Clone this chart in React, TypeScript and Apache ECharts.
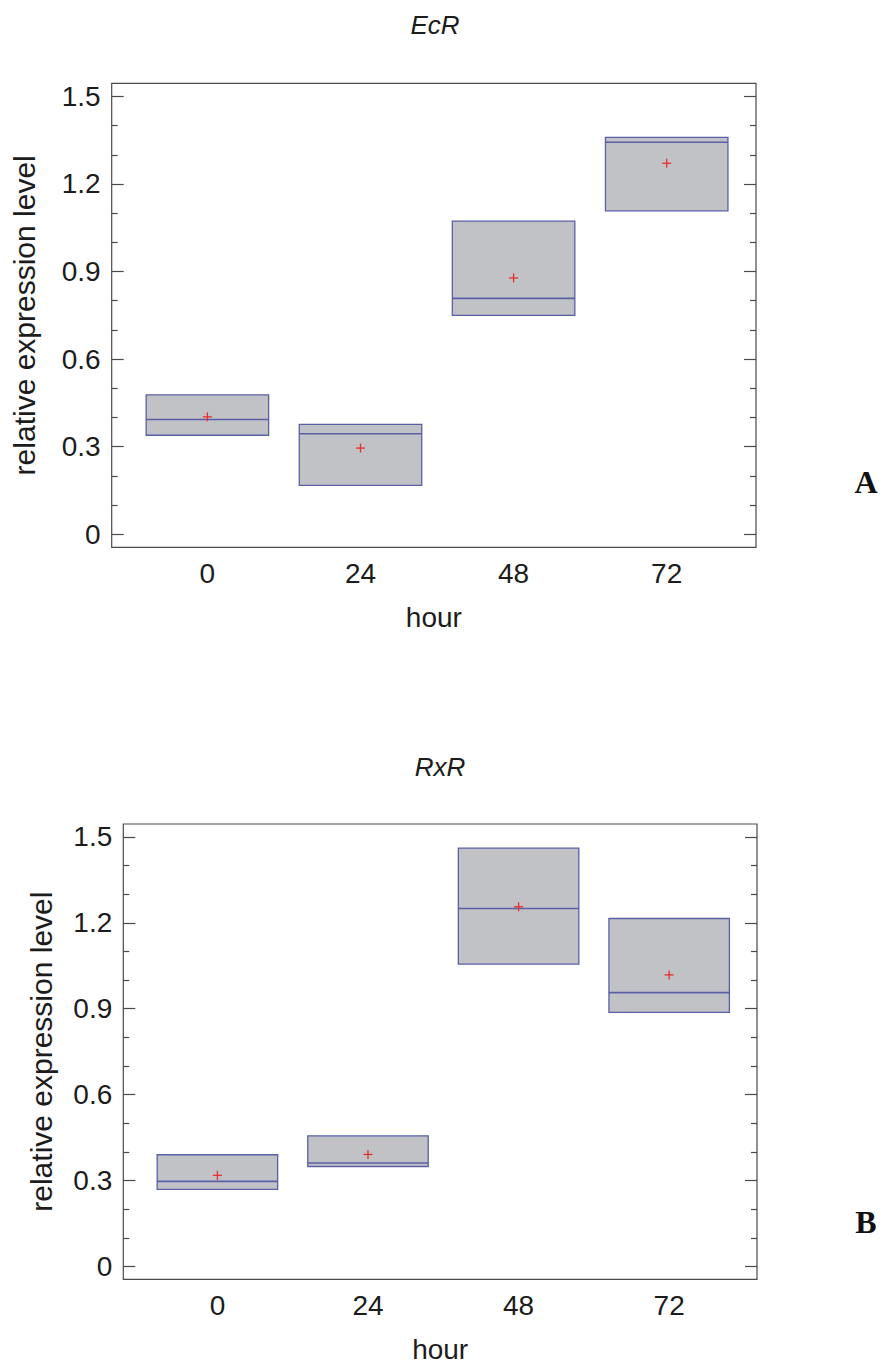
import React, { useEffect, useRef } from "react";
import * as echarts from "echarts";

// ---- data ----
const hours = [0, 24, 48, 72];
const xTickLabels = [0, 24, 48, 72];
const yMajorTicks = [0, 0.3, 0.6, 0.9, 1.2, 1.5];
const yMinorTicks = [0.1, 0.2, 0.4, 0.5, 0.7, 0.8, 1.0, 1.1, 1.3, 1.4];

// EcR (panel A)
const ecrQ1 = [0.339, 0.167, 0.750, 1.108];
const ecrMedian = [0.393, 0.344, 0.808, 1.343];
const ecrQ3 = [0.477, 0.376, 1.073, 1.360];
const ecrMean = [0.402, 0.295, 0.878, 1.271];

// RxR (panel B)
const rxrQ1 = [0.269, 0.349, 1.056, 0.887];
const rxrMedian = [0.297, 0.361, 1.250, 0.956];
const rxrQ3 = [0.390, 0.456, 1.461, 1.215];
const rxrMean = [0.318, 0.391, 1.256, 1.018];

const X_MIN = -15;
const X_MAX = 86;
const Y_MIN = -0.045;
const Y_MAX = 1.545;
const HALF = 9.6;

const FONT = "'Liberation Sans', Arial, sans-serif";
const FRAME = "#4a4a4a";
const TEXT = "#1c1c1c";
const BOX_FILL = "#c0c2c6";
const BOX_EDGE = "#5a5fa6";
const MEAN = "#e6302c";

function build(q1: number[], med: number[], q3: number[], mean: number[]) {
  return hours.map((h, i) => [h, q1[i], med[i], q3[i], mean[i]]);
}

const renderBox = (params: any, api: any) => {
  const x = api.value(0);
  const q1 = api.value(1);
  const med = api.value(2);
  const q3 = api.value(3);
  const mn = api.value(4);
  const tl = api.coord([x - HALF, q3]);
  const br = api.coord([x + HALF, q1]);
  const m1 = api.coord([x - HALF, med]);
  const m2 = api.coord([x + HALF, med]);
  const c = api.coord([x, mn]);
  const s = 4.5;
  return {
    type: "group",
    children: [
      {
        type: "rect",
        shape: { x: tl[0], y: tl[1], width: br[0] - tl[0], height: br[1] - tl[1] },
        style: { fill: BOX_FILL, stroke: BOX_EDGE, lineWidth: 1.3 },
      },
      {
        type: "line",
        shape: { x1: m1[0], y1: m1[1], x2: m2[0], y2: m2[1] },
        style: { stroke: BOX_EDGE, lineWidth: 1.6 },
      },
      {
        type: "line",
        shape: { x1: c[0] - s, y1: c[1], x2: c[0] + s, y2: c[1] },
        style: { stroke: MEAN, lineWidth: 1.3 },
      },
      {
        type: "line",
        shape: { x1: c[0], y1: c[1] - s, x2: c[0], y2: c[1] + s },
        style: { stroke: MEAN, lineWidth: 1.3 },
      },
    ],
  };
};

function yAxesFor(gridIndex: number, nameGap: number) {
  const base = {
    type: "value",
    gridIndex,
    min: Y_MIN,
    max: Y_MAX,
    splitLine: { show: false },
    axisLine: { show: false, onZero: false },
  };
  const tickStyle = { color: FRAME, width: 1.2 };
  return [
    {
      ...base,
      position: "left",
      name: "relative expression level",
      nameLocation: "middle",
      nameGap,
      nameTextStyle: { fontSize: 30, fontFamily: FONT, color: TEXT },
      axisTick: { show: true, inside: true, length: 12, customValues: yMajorTicks, lineStyle: tickStyle },
      axisLabel: {
        show: true,
        customValues: yMajorTicks,
        margin: 11,
        fontSize: 28,
        fontFamily: FONT,
        color: TEXT,
        formatter: (v: number) => (v === 0 ? "0" : v.toFixed(1)),
      },
    },
    {
      ...base,
      position: "left",
      offset: 0,
      axisTick: { show: true, inside: true, length: 6, customValues: yMinorTicks, lineStyle: tickStyle },
      axisLabel: { show: false },
    },
    {
      ...base,
      position: "right",
      offset: 0,
      axisTick: { show: true, inside: true, length: 12, customValues: yMajorTicks, lineStyle: tickStyle },
      axisLabel: { show: false },
    },
    {
      ...base,
      position: "right",
      offset: 0,
      axisTick: { show: true, inside: true, length: 6, customValues: yMinorTicks, lineStyle: tickStyle },
      axisLabel: { show: false },
    },
  ];
}

function xAxisFor(gridIndex: number) {
  return {
    type: "value",
    gridIndex,
    position: "bottom",
    min: X_MIN,
    max: X_MAX,
    name: "hour",
    nameLocation: "middle",
    nameGap: 56,
    nameTextStyle: { fontSize: 28, fontFamily: FONT, color: TEXT },
    splitLine: { show: false },
    axisLine: { show: false, onZero: false },
    axisTick: { show: false },
    axisLabel: {
      customValues: xTickLabels,
      margin: 12,
      fontSize: 28,
      fontFamily: FONT,
      color: TEXT,
    },
  };
}

export default function App() {
  const ref = useRef<HTMLDivElement>(null);
  useEffect(() => {
    if (!ref.current) return;
    const chart = echarts.init(ref.current, undefined, { renderer: "svg" });
    chart.setOption({
      animation: false,
      backgroundColor: "#ffffff",
      grid: [
        { left: 111.7, top: 83.3, width: 644.3, height: 464, show: true, borderColor: FRAME, borderWidth: 1.2, backgroundColor: "transparent" },
        { left: 123.3, top: 824, width: 633.7, height: 455.3, show: true, borderColor: FRAME, borderWidth: 1.2, backgroundColor: "transparent" },
      ],
      xAxis: [xAxisFor(0), xAxisFor(1)],
      yAxis: [...yAxesFor(0, 72), ...yAxesFor(1, 67)],
      series: [
        {
          type: "custom",
          name: "EcR",
          xAxisIndex: 0,
          yAxisIndex: 0,
          renderItem: renderBox,
          encode: { x: 0, y: [1, 2, 3, 4] },
          data: build(ecrQ1, ecrMedian, ecrQ3, ecrMean),
        },
        {
          type: "custom",
          name: "RxR",
          xAxisIndex: 1,
          yAxisIndex: 4,
          renderItem: renderBox,
          encode: { x: 0, y: [1, 2, 3, 4] },
          data: build(rxrQ1, rxrMedian, rxrQ3, rxrMean),
        },
      ],
      graphic: [
        {
          type: "text",
          x: 435,
          y: 25,
          style: { text: "EcR", fontSize: 26, fontStyle: "italic", fontFamily: FONT, fill: TEXT, textAlign: "center", textVerticalAlign: "middle" },
        },
        {
          type: "text",
          x: 440,
          y: 767,
          style: { text: "RxR", fontSize: 26, fontStyle: "italic", fontFamily: FONT, fill: TEXT, textAlign: "center", textVerticalAlign: "middle" },
        },
        {
          type: "text",
          x: 866,
          y: 482,
          style: { text: "A", fontSize: 32, fontWeight: "bold", fontFamily: "'Liberation Serif', 'Times New Roman', serif", fill: "#111", textAlign: "center", textVerticalAlign: "middle" },
        },
        {
          type: "text",
          x: 866,
          y: 1222,
          style: { text: "B", fontSize: 32, fontWeight: "bold", fontFamily: "'Liberation Serif', 'Times New Roman', serif", fill: "#111", textAlign: "center", textVerticalAlign: "middle" },
        },
      ],
    });
    return () => chart.dispose();
  }, []);
  return (
    <div
      ref={ref}
      style={{ position: "absolute", left: 0, top: 0, width: 885, height: 1367 }}
    />
  );
}
